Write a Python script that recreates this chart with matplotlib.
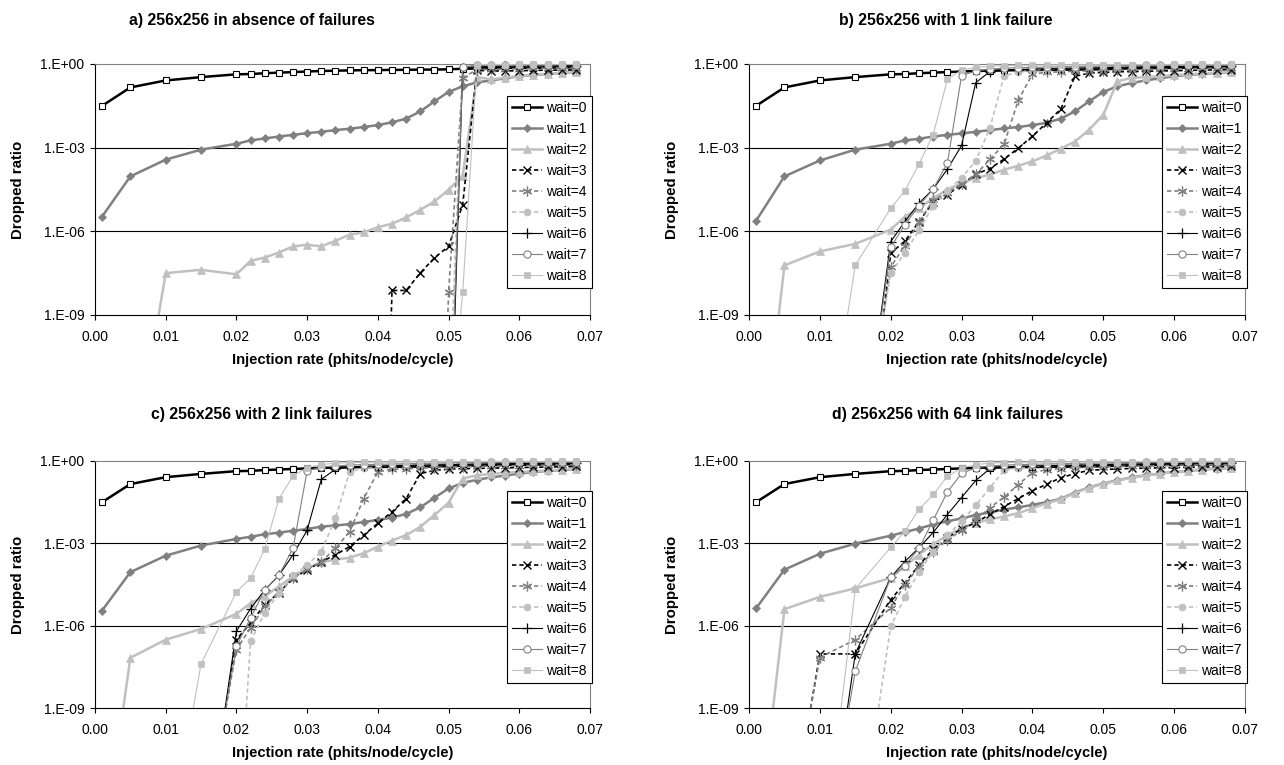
import numpy as np
import matplotlib
matplotlib.use("Agg")
import matplotlib.pyplot as plt
from matplotlib.lines import Line2D
from matplotlib.ticker import NullLocator

plt.rcParams['font.family'] = ['Liberation Sans', 'DejaVu Sans']

nan = np.nan

# injection rate (x) shared by all panels
rate = [0.001, 0.005, 0.010, 0.015, 0.020, 0.022, 0.024, 0.026, 0.028, 0.030,
        0.032, 0.034, 0.036, 0.038, 0.040, 0.042, 0.044, 0.046, 0.048, 0.050,
        0.052, 0.054, 0.056, 0.058, 0.060, 0.062, 0.064, 0.066, 0.068]

# dropped ratio, stored as log10 values
wait0 = [-1.50, -0.84, -0.59, -0.47, -0.37, -0.36, -0.33, -0.31, -0.29, -0.27,
         -0.25, -0.24, -0.23, -0.22, -0.22, -0.21, -0.21, -0.20, -0.20, -0.19,
         -0.17, -0.16, -0.15, -0.14, -0.14, -0.13, -0.13, -0.12, -0.12]

# a) no failures
a_w1 = [-5.47, -4.03, -3.43, -3.07, -2.86, -2.74, -2.67, -2.60, -2.54, -2.48, -2.43, -2.37, -2.32, -2.26, -2.19,
        -2.09, -1.96, -1.70, -1.34, -1.00, -0.80, -0.66, -0.59, -0.51, -0.44, -0.39, -0.36, -0.32, -0.30]
a_w2 = [nan, -15.0, -7.50, -7.38, -7.54, -7.06, -6.94, -6.76, -6.54, -6.48, -6.54, -6.34, -6.12, -6.04, -5.85,
        -5.73, -5.50, -5.23, -4.93, -4.51, -4.00, -0.47, -0.55, -0.49, -0.43, -0.38, -0.35, -0.32, -0.29]
a_w3 = [nan] * 14 + [-25.7, -8.12, -8.12, -7.49, -6.95, -6.54, -5.04, -0.23, -0.25, -0.25, -0.24, -0.23, -0.22, -0.22, -0.21]
a_w4 = [nan] * 18 + [-24.4, -8.19, -0.50, -0.20, -0.19, -0.18, -0.17, -0.16, -0.15, -0.14, -0.13]
a_w5 = [nan] * 19 + [-12.8, -0.12, -0.06, -0.05, -0.05, -0.04, -0.04, -0.03, -0.03, -0.03]
a_w6 = [nan] * 19 + [-16.3, -0.13, -0.10, -0.09, -0.08, -0.08, -0.07, -0.07, -0.06, -0.06]
a_w7 = [nan] * 19 + [-15.0, -0.10, -0.05, -0.04, -0.04, -0.03, -0.03, -0.03, -0.02, -0.02]
a_w8 = [nan] * 19 + [-13.6, -8.19, -0.02, -0.02, -0.02, -0.01, -0.01, -0.01, -0.01, -0.01]

# b) 1 link failure
b_w1 = [-5.62, -4.03, -3.46, -3.07, -2.86, -2.74, -2.68, -2.60, -2.54, -2.49, -2.43, -2.37, -2.31, -2.26, -2.19,
        -2.11, -1.96, -1.70, -1.34, -1.00, -0.80, -0.68, -0.59, -0.51, -0.44, -0.39, -0.36, -0.32, -0.30]
b_w2 = [-16.1, -7.22, -6.72, -6.45, -5.94, -5.47, -5.17, -4.81, -4.51, -4.27, -4.09, -3.97, -3.79, -3.65, -3.49,
        -3.28, -3.04, -2.78, -2.36, -1.82, -0.62, -0.50, -0.47, -0.44, -0.40, -0.37, -0.34, -0.31, -0.29]
b_w3 = [nan] * 3 + [-17.8, -6.78, -6.35, -5.65, -4.95, -4.68, -4.33, -3.95, -3.75, -3.41, -3.02, -2.59, -2.11, -1.62,
                    -0.44, -0.33, -0.30, -0.28, -0.27, -0.26, -0.25, -0.24, -0.23, -0.22, -0.21, -0.20]
b_w4 = [nan] * 3 + [-16.0, -7.28, -6.51, -5.67, -4.87, -4.62, -4.30, -3.96, -3.42, -2.88, -1.30, -0.36, -0.30, -0.28,
                    -0.26, -0.25, -0.24, -0.22, -0.21, -0.20, -0.19, -0.18, -0.17, -0.16, -0.15, -0.14]
b_w5 = [nan] * 3 + [-15.0, -7.50, -6.77, -5.96, -5.08, -4.55, -4.08, -3.48, -2.30, -0.42, -0.30, -0.22, -0.18, -0.15,
                    -0.13, -0.11, -0.10, -0.09, -0.08, -0.07, -0.06, -0.05, -0.05, -0.04, -0.04, -0.04]
b_w6 = [nan] * 3 + [-15.8, -6.37, -5.65, -4.99, -4.48, -3.77, -2.92, -0.67, -0.27, -0.22, -0.20, -0.18, -0.17, -0.16,
                    -0.15, -0.14, -0.13, -0.12, -0.11, -0.10, -0.10, -0.09, -0.09, -0.08, -0.08, -0.07]
b_w7 = [nan] * 3 + [-15.9, -6.57, -5.76, -5.08, -4.48, -3.55, -0.42, -0.25, -0.18, -0.15, -0.13, -0.12, -0.11, -0.10,
                    -0.09, -0.08, -0.07, -0.06, -0.06, -0.05, -0.05, -0.04, -0.04, -0.04, -0.03, -0.03]
b_w8 = [nan] * 2 + [-15.3, -7.22, -5.17, -4.55, -3.58, -2.53, -0.54, -0.22, -0.12, -0.08, -0.06, -0.05, -0.04, -0.04,
                    -0.03, -0.03, -0.03, -0.02, -0.02, -0.02, -0.02, -0.02, -0.01, -0.01, -0.01, -0.01, -0.01]

# c) 2 link failures
c_w1 = [-5.45, -4.05, -3.45, -3.08, -2.84, -2.76, -2.67, -2.61, -2.54, -2.48, -2.39, -2.35, -2.30, -2.22, -2.15,
        -2.06, -1.93, -1.69, -1.34, -1.00, -0.80, -0.68, -0.60, -0.53, -0.46, -0.40, -0.36, -0.33, -0.30]
c_w2 = [-14.5, -7.17, -6.51, -6.12, -5.57, -5.18, -4.93, -4.57, -4.21, -3.91, -3.69, -3.60, -3.52, -3.36, -3.12,
        -2.90, -2.70, -2.40, -1.97, -1.52, -0.64, -0.52, -0.47, -0.43, -0.40, -0.37, -0.34, -0.31, -0.29]
c_w3 = [nan] * 3 + [-14.8, -6.51, -5.90, -5.24, -4.80, -4.27, -3.97, -3.67, -3.42, -3.12, -2.70, -2.27, -1.85, -1.37,
                    -0.46, -0.34, -0.30, -0.28, -0.27, -0.26, -0.25, -0.24, -0.23, -0.22, -0.21, -0.20]
c_w4 = [nan] * 3 + [-14.0, -6.87, -6.08, -5.30, -4.78, -4.27, -3.95, -3.67, -3.18, -2.58, -1.37, -0.40, -0.30, -0.28,
                    -0.26, -0.24, -0.22, -0.21, -0.20, -0.19, -0.18, -0.17, -0.16, -0.15, -0.14, -0.13]
c_w5 = [nan] * 4 + [-14.7, -6.57, -5.54, -4.81, -4.17, -3.79, -3.30, -2.09, -0.40, -0.25, -0.18, -0.15, -0.13,
                    -0.11, -0.10, -0.09, -0.08, -0.07, -0.06, -0.05, -0.05, -0.04, -0.04, -0.04, -0.04]
c_w6 = [nan] * 3 + [-14.95, -6.20, -5.38, -4.70, -4.17, -3.42, -2.52, -0.67, -0.30, -0.22, -0.20, -0.18, -0.17, -0.16,
                    -0.15, -0.14, -0.13, -0.12, -0.11, -0.10, -0.10, -0.09, -0.09, -0.08, -0.08, -0.07]
c_w7 = [nan] * 3 + [-14.25, -6.75, -5.72, -4.70, -4.17, -3.18, -0.36, -0.22, -0.18, -0.15, -0.13, -0.12, -0.11, -0.10,
                    -0.09, -0.08, -0.07, -0.06, -0.06, -0.05, -0.05, -0.04, -0.04, -0.04, -0.03, -0.03]
c_w8 = [nan] * 2 + [-14.7, -7.39, -4.77, -4.27, -3.21, -1.39, -0.54, -0.25, -0.13, -0.08, -0.06, -0.05, -0.04, -0.04,
                    -0.03, -0.03, -0.03, -0.02, -0.02, -0.02, -0.02, -0.02, -0.01, -0.01, -0.01, -0.01, -0.01]

# d) 64 link failures
d_w1 = [-5.37, -3.96, -3.38, -3.01, -2.72, -2.59, -2.46, -2.31, -2.20, -2.09, -1.97, -1.87, -1.77, -1.69, -1.60,
        -1.50, -1.38, -1.15, -0.96, -0.82, -0.70, -0.60, -0.52, -0.46, -0.40, -0.36, -0.31, -0.28, -0.25]
d_w2 = [-14.4, -5.40, -4.95, -4.64, -4.26, -3.84, -3.41, -3.03, -2.70, -2.45, -2.25, -2.13, -2.02, -1.90, -1.72,
        -1.55, -1.40, -1.17, -0.97, -0.84, -0.71, -0.61, -0.53, -0.46, -0.40, -0.35, -0.31, -0.27, -0.24]
d_w3 = [nan, -14.6, -7.03, -7.03, -5.05, -4.45, -3.79, -3.22, -2.80, -2.47, -2.25, -1.94, -1.66, -1.37, -1.08,
        -0.85, -0.61, -0.46, -0.34, -0.31, -0.29, -0.27, -0.26, -0.25, -0.24, -0.23, -0.22, -0.21, -0.20]
d_w4 = [nan, -14.3, -7.16, -6.51, -5.35, -4.50, -3.85, -3.30, -2.88, -2.52, -2.15, -1.70, -1.32, -0.86, -0.42,
        -0.32, -0.28, -0.25, -0.23, -0.21, -0.20, -0.19, -0.18, -0.17, -0.16, -0.15, -0.14, -0.13, -0.12]
d_w5 = [nan] * 3 + [-14.7, -6.02, -4.96, -4.03, -3.30, -2.70, -2.20, -1.62, -0.97, -0.34, -0.25, -0.20, -0.17, -0.15,
                    -0.13, -0.11, -0.10, -0.09, -0.08, -0.07, -0.06, -0.05, -0.05, -0.04, -0.04, -0.04]
d_w6 = [nan] * 2 + [-16.0, -7.02, -4.24, -3.66, -3.16, -2.60, -1.95, -1.33, -0.71, -0.28, -0.22, -0.20, -0.18, -0.17,
                    -0.16, -0.15, -0.14, -0.13, -0.12, -0.11, -0.10, -0.10, -0.09, -0.09, -0.08, -0.08, -0.07]
d_w7 = [nan] * 2 + [-15.1, -7.66, -4.24, -3.82, -3.18, -2.15, -1.13, -0.45, -0.25, -0.18, -0.15, -0.13, -0.12, -0.11,
                    -0.10, -0.09, -0.08, -0.07, -0.06, -0.06, -0.05, -0.05, -0.04, -0.04, -0.04, -0.03, -0.03]
d_w8 = [nan] * 2 + [-15.5, -4.66, -3.15, -2.56, -1.76, -1.22, -0.56, -0.26, -0.13, -0.08, -0.06, -0.05, -0.04, -0.04,
                    -0.03, -0.03, -0.03, -0.02, -0.02, -0.02, -0.02, -0.02, -0.01, -0.01, -0.01, -0.01, -0.01]

labels = ['wait=%d' % k for k in range(9)]
titles = ['a) 256x256 in absence of failures', 'b) 256x256 with 1 link failure',
          'c) 256x256 with 2 link failures', 'd) 256x256 with 64 link failures']

BLACK, GRAY, LIGHT = 'black', '#808080', '#c0c0c0'
dash = (0, (2.6, 1.8))
styles = [
    dict(color=BLACK, lw=1.8, ls='-', marker='s', ms=4, mfc='white', mec=BLACK, mew=0.8),
    dict(color=GRAY, lw=1.8, ls='-', marker='D', ms=4.2, mfc=GRAY, mec=GRAY, mew=0.5),
    dict(color=LIGHT, lw=1.8, ls='-', marker='^', ms=5.2, mfc=LIGHT, mec=LIGHT, mew=0.5),
    dict(color=BLACK, lw=1.2, ls=dash, marker='x', ms=6, mfc=BLACK, mec=BLACK, mew=1.0),
    dict(color=GRAY, lw=1.2, ls=dash, marker=(6, 2, 0), ms=7, mfc=GRAY, mec=GRAY, mew=0.9),
    dict(color=LIGHT, lw=1.2, ls=dash, marker='o', ms=5, mfc=LIGHT, mec=LIGHT, mew=0.5),
    dict(color=BLACK, lw=0.8, ls='-', marker='+', ms=6.5, mfc=BLACK, mec=BLACK, mew=0.9),
    dict(color=GRAY, lw=0.8, ls='-', marker='o', ms=5.2, mfc='white', mec=GRAY, mew=0.8),
    dict(color=LIGHT, lw=0.8, ls='-', marker='s', ms=4.5, mfc=LIGHT, mec=LIGHT, mew=0.5),
]

panels = [
    [wait0, a_w1, a_w2, a_w3, a_w4, a_w5, a_w6, a_w7, a_w8],
    [wait0, b_w1, b_w2, b_w3, b_w4, b_w5, b_w6, b_w7, b_w8],
    [wait0, c_w1, c_w2, c_w3, c_w4, c_w5, c_w6, c_w7, c_w8],
    [wait0, d_w1, d_w2, d_w3, d_w4, d_w5, d_w6, d_w7, d_w8],
]

W, H = 1284, 765
fig = plt.figure(figsize=(W / 100, H / 100), dpi=100)

# pixel boxes: left, right, top, bottom
boxes = [(95, 590, 64, 315), (749, 1245, 64, 315), (95, 590, 461, 708), (749, 1245, 461, 708)]
title_pos = [(252, 20), (946, 20), (262, 414), (948, 414)]

x = np.array(rate)
for p, series in enumerate(panels):
    l, r, t, b = boxes[p]
    ax = fig.add_axes([l / W, 1 - b / H, (r - l) / W, (b - t) / H])
    ax.axhline(1e-3, color=BLACK, lw=0.8, zorder=1)
    ax.axhline(1e-6, color=BLACK, lw=0.8, zorder=1)
    handles = []
    for k, (vals, st) in enumerate(zip(series, styles)):
        y = 10.0 ** np.array(vals, dtype=float)
        ax.plot(x, y, color=st['color'], lw=st['lw'], ls=st['ls'], zorder=2 + k * 0.1)
        ok = y >= 1e-9
        ax.plot(x[ok], y[ok], ls='none', marker=st['marker'], ms=st['ms'], mfc=st['mfc'],
                mec=st['mec'], mew=st['mew'], clip_on=False, zorder=2.05 + k * 0.1)
        handles.append(Line2D([], [], label=labels[k], **st))

    ax.set_yscale('log')
    ax.set_ylim(1e-9, 1)
    ax.set_xlim(0, 0.07)
    ax.set_yticks([1e-9, 1e-6, 1e-3, 1])
    ax.set_yticklabels(['1.E-09', '1.E-06', '1.E-03', '1.E+00'])
    ax.yaxis.set_minor_locator(NullLocator())
    xt = np.arange(8) * 0.01
    ax.set_xticks(xt)
    ax.set_xticklabels(['%.2f' % v for v in xt])
    ax.tick_params(direction='out', length=3.6, width=0.8, labelsize=10, colors=BLACK)
    ax.tick_params(axis='x', pad=7)
    ax.tick_params(axis='y', pad=4)
    for s in ('left', 'bottom'):
        ax.spines[s].set_color(BLACK)
        ax.spines[s].set_linewidth(0.8)
    for s in ('top', 'right'):
        ax.spines[s].set_color(GRAY)
        ax.spines[s].set_linewidth(0.8)

    leg = ax.legend(handles=handles, loc='center right', bbox_to_anchor=(1.004, 0.49),
                    fontsize=10, handlelength=2.2, handletextpad=0.3, labelspacing=0.5,
                    borderpad=0.35, borderaxespad=0, fancybox=False, framealpha=1,
                    edgecolor=BLACK)
    leg.get_frame().set_linewidth(0.8)
    leg.set_zorder(10)

    tx, ty = title_pos[p]
    fig.text(tx / W, 1 - ty / H, titles[p], ha='center', va='center', fontsize=11.3, fontweight='bold')
    fig.text((l - 77) / W, 1 - ((t + b) / 2) / H, 'Dropped ratio', rotation=90,
             ha='center', va='center', fontsize=10.8, fontweight='bold')
    fig.text(((l + r) / 2) / W, 1 - (b + 45) / H, 'Injection rate (phits/node/cycle)',
             ha='center', va='center', fontsize=10.6, fontweight='bold')

fig.savefig('out.png', dpi=100)
